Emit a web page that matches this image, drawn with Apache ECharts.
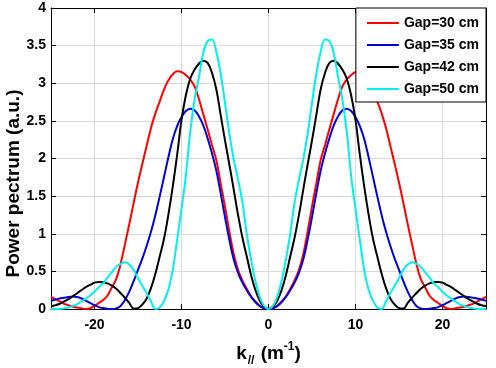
<!DOCTYPE html>
<html>
<head>
<meta charset="utf-8">
<script src="https://cdn.jsdelivr.net/npm/echarts@6/dist/echarts.min.js"></script>
<style>html,body{margin:0;padding:0;background:#fff}#c{width:496px;height:368px}</style>
</head>
<body>
<div id="c"></div>
<script>
// k_// grid (m^-1)
const K = [-25,-24.5,-24,-23.5,-23,-22.5,-22,-21.5,-21,-20.5,-20,-19.5,-19,-18.5,-18,-17.5,-17,-16.5,-16,-15.5,
  -15,-14.5,-14,-13.5,-13,-12.5,-12,-11.5,-11,-10.5,-10,-9.5,-9,-8.5,-8,-7.5,-7,-6.5,-6,-5.5,
  -5,-4.5,-4,-3.5,-3,-2.5,-2,-1.5,-1,-0.5,0,0.5,1,1.5,2,2.5,3,3.5,4,4.5,
  5,5.5,6,6.5,7,7.5,8,8.5,9,9.5,10,10.5,11,11.5,12,12.5,13,13.5,14,14.5,
  15,15.5,16,16.5,17,17.5,18,18.5,19,19.5,20,20.5,21,21.5,22,22.5,23,23.5,24,24.5,25];

const gap30 = [0.16,0.13,0.10,0.07,0.05,0.03,0.02,0.01,0.0,0.01,0.04,0.08,0.12,0.18,0.29,0.40,0.60,0.86,1.13,1.41,
  1.68,1.93,2.17,2.41,2.60,2.76,2.92,3.04,3.12,3.16,3.15,3.11,3.05,2.96,2.79,2.59,2.39,2.18,1.98,1.67,
  1.36,1.03,0.73,0.52,0.38,0.27,0.17,0.10,0.04,0.01,0,0.01,0.04,0.10,0.17,0.27,0.38,0.52,0.73,1.03,
  1.36,1.67,1.98,2.18,2.39,2.59,2.79,2.96,3.05,3.11,3.15,3.16,3.12,3.04,2.92,2.76,2.60,2.41,2.17,1.93,
  1.68,1.41,1.13,0.86,0.60,0.40,0.29,0.18,0.12,0.08,0.04,0.01,0.0,0.01,0.02,0.03,0.05,0.07,0.10,0.13,0.16];

const gap35 = [0.11,0.125,0.14,0.15,0.16,0.165,0.16,0.14,0.11,0.08,0.05,0.025,0.012,0.003,0.0,0.008,0.04,0.12,0.23,0.37,
  0.52,0.67,0.84,1.03,1.25,1.50,1.76,2.02,2.26,2.43,2.55,2.63,2.66,2.64,2.56,2.44,2.27,2.07,1.84,1.54,
  1.22,0.92,0.66,0.48,0.35,0.25,0.16,0.09,0.04,0.01,0,0.01,0.04,0.09,0.16,0.25,0.35,0.48,0.66,0.92,
  1.22,1.54,1.84,2.07,2.27,2.44,2.56,2.64,2.66,2.63,2.55,2.43,2.26,2.02,1.76,1.50,1.25,1.03,0.84,0.67,
  0.52,0.37,0.23,0.12,0.04,0.008,0.0,0.003,0.012,0.025,0.05,0.08,0.11,0.14,0.16,0.165,0.16,0.15,0.14,0.125,0.11];

const gap42 = [0.04,0.05,0.07,0.10,0.13,0.17,0.21,0.25,0.29,0.32,0.35,0.36,0.355,0.34,0.31,0.27,0.21,0.15,0.08,0.005,
  0.012,0.06,0.14,0.28,0.47,0.70,0.94,1.26,1.63,2.05,2.51,2.84,3.06,3.18,3.26,3.30,3.27,3.14,2.92,2.58,
  2.24,1.92,1.59,1.25,0.95,0.70,0.45,0.25,0.11,0.03,0,0.03,0.11,0.25,0.45,0.70,0.95,1.25,1.59,1.92,
  2.24,2.58,2.92,3.14,3.27,3.30,3.26,3.18,3.06,2.84,2.51,2.05,1.63,1.26,0.94,0.70,0.47,0.28,0.14,0.06,
  0.012,0.005,0.08,0.15,0.21,0.27,0.31,0.34,0.355,0.36,0.35,0.32,0.29,0.25,0.21,0.17,0.13,0.10,0.07,0.05,0.04];

const gap50 = [0.0,0.0,0.0,0.01,0.02,0.04,0.06,0.10,0.14,0.18,0.23,0.29,0.34,0.42,0.49,0.56,0.60,0.62,0.59,0.52,
  0.41,0.31,0.21,0.10,0.0,0.02,0.11,0.26,0.52,0.92,1.33,1.77,2.35,2.78,3.08,3.40,3.56,3.58,3.42,3.13,
  2.74,2.33,1.99,1.72,1.42,1.0,0.66,0.37,0.16,0.04,0,0.04,0.16,0.37,0.66,1.0,1.42,1.72,1.99,2.33,
  2.74,3.13,3.42,3.58,3.56,3.40,3.08,2.78,2.35,1.77,1.33,0.92,0.52,0.26,0.11,0.02,0.0,0.10,0.21,0.31,
  0.41,0.52,0.59,0.62,0.60,0.56,0.49,0.42,0.34,0.29,0.23,0.18,0.14,0.10,0.06,0.04,0.02,0.01,0.0,0.0,0.0];

const seriesNames = ['Gap=30 cm','Gap=35 cm','Gap=42 cm','Gap=50 cm'];
const seriesValues = [gap30, gap35, gap42, gap50];
const seriesColors = ['#ff0000','#0000d8','#000000','#00eeee'];

const FONT = 'Liberation Sans';
const chart = echarts.init(document.getElementById('c'), null, {renderer:'canvas'});
const axisCommon = {
  axisLine:{show:true, onZero:false, lineStyle:{color:'#000', width:1}},
  axisTick:{show:true, inside:true, length:5, lineStyle:{color:'#000'}}
};
chart.setOption({
  animation:false,
  backgroundColor:'#fff',
  grid:{left:51, right:10, top:8, bottom:59, containLabel:false, outerBoundsMode:'none'},
  legend:{
    data:seriesNames, orient:'vertical', right:10, top:8,
    backgroundColor:'#fff', borderColor:'#000', borderWidth:1, borderRadius:0,
    padding:[8,7,6,10], itemWidth:32, itemHeight:14, itemGap:8,
    itemStyle:{opacity:0, color:'transparent', borderColor:'transparent', borderWidth:0},
    textStyle:{fontFamily:FONT, fontSize:14, fontWeight:'bold', color:'#000'}
  },
  xAxis:[
    Object.assign({
      type:'value', min:-25, max:25, splitNumber:5, position:'bottom',
      axisLabel:{color:'#000', fontFamily:FONT, fontSize:14, fontWeight:'bold', margin:9,
        showMinLabel:false, showMaxLabel:false,
        formatter:function(v){return (v % 10 === 0) ? String(v) : '';}},
      splitLine:{show:true, lineStyle:{color:'#d9d9d9', width:1}},
      name:'{k|k}{sub|//}{t| (m}{sup|-1}{t|)}', nameLocation:'middle', nameGap:32, nameMoveOverlap:false,
      nameTextStyle:{color:'#000', fontFamily:FONT, fontWeight:'bold',
        rich:{
          k:{fontSize:19, fontWeight:'bold', fontFamily:FONT, color:'#000', lineHeight:26, verticalAlign:'middle'},
          t:{fontSize:19, fontWeight:'bold', fontFamily:FONT, color:'#000', lineHeight:26, verticalAlign:'middle'},
          sub:{fontSize:12, fontWeight:'bold', fontFamily:FONT, color:'#000', lineHeight:26, verticalAlign:'bottom', padding:[0,1,0,1]},
          sup:{fontSize:12, fontWeight:'bold', fontFamily:FONT, color:'#000', lineHeight:26, verticalAlign:'top'}
        }}
    }, axisCommon),
    Object.assign({
      type:'value', min:-25, max:25, splitNumber:5, position:'top',
      axisLabel:{show:false}, splitLine:{show:false}
    }, axisCommon)
  ],
  yAxis:[
    Object.assign({
      type:'value', min:0, max:4, interval:0.5, position:'left',
      axisLabel:{color:'#000', fontFamily:FONT, fontSize:14, fontWeight:'bold', margin:5},
      splitLine:{show:true, lineStyle:{color:'#d9d9d9', width:1}},
      name:'Power pectrum (a.u.)', nameLocation:'middle', nameGap:28, nameRotate:90, nameMoveOverlap:false,
      nameTextStyle:{color:'#000', fontFamily:FONT, fontSize:19, fontWeight:'bold', padding:[0,50,0,0]}
    }, axisCommon),
    Object.assign({
      type:'value', min:0, max:4, interval:0.5, position:'right',
      axisLabel:{show:false}, splitLine:{show:false}
    }, axisCommon)
  ],
  series: seriesNames.map(function(n, i){
    return {
      name:n, type:'line', xAxisIndex:0, yAxisIndex:0,
      data:K.map(function(k, j){return [k, seriesValues[i][j]];}),
      showSymbol:false, symbol:'none', smooth:0.4,
      lineStyle:{color:seriesColors[i], width:2}, itemStyle:{color:seriesColors[i]},
      clip:true
    };
  })
});
</script>
</body>
</html>
